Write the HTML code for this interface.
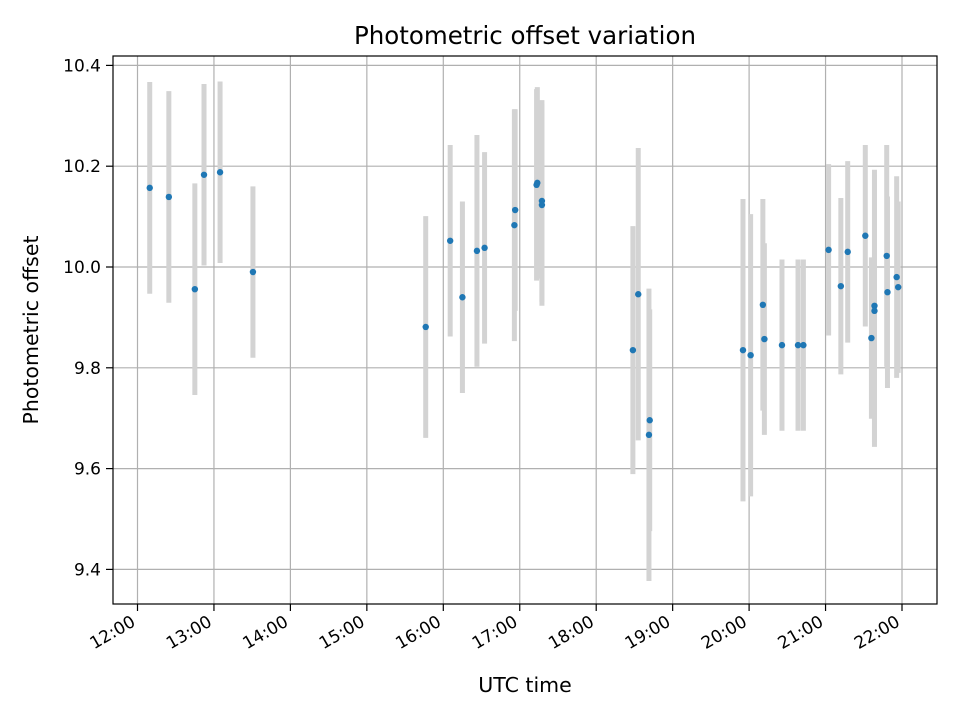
<!DOCTYPE html>
<html><head><meta charset="utf-8"><style>
html,body{margin:0;padding:0;background:#fff;}
svg text{font-family:"DejaVu Sans","Liberation Sans",sans-serif;fill:#000;}
</style></head><body>
<svg id="chart" width="960" height="720" xmlns="http://www.w3.org/2000/svg">
<rect width="960" height="720" fill="#fff"/>
<g id="grid"></g>
<g id="errs"></g>
<g id="pts"></g>
<rect x="113" y="56" width="824" height="548" fill="none" stroke="#000" stroke-width="1.2"/>
<g id="ticks"></g>
<text x="525" y="44" font-size="24.5" text-anchor="middle">Photometric offset variation</text>
<text x="525" y="692" font-size="20.5" text-anchor="middle">UTC time</text>
<text x="38" y="330" font-size="20.5" text-anchor="middle" transform="rotate(-90 38 330)">Photometric offset</text>
</svg>
<script>
const times=[12.16,12.41,12.75,12.87,13.08,13.51,15.77,16.09,16.25,16.44,16.54,16.93,16.94,17.22,17.23,17.29,17.29,18.48,18.55,18.69,18.70,19.92,20.02,20.18,20.20,20.43,20.64,20.71,21.04,21.20,21.29,21.52,21.60,21.64,21.64,21.80,21.81,21.93,21.95];
const values=[10.157,10.139,9.956,10.183,10.188,9.990,9.881,10.052,9.940,10.032,10.038,10.083,10.113,10.163,10.167,10.131,10.123,9.835,9.946,9.667,9.696,9.835,9.825,9.925,9.857,9.845,9.845,9.845,10.034,9.962,10.030,10.062,9.859,9.923,9.913,10.022,9.950,9.980,9.960];
const errors=[0.21,0.21,0.21,0.18,0.18,0.17,0.22,0.19,0.19,0.23,0.19,0.23,0.20,0.19,0.19,0.20,0.20,0.246,0.29,0.29,0.22,0.30,0.28,0.21,0.19,0.17,0.17,0.17,0.17,0.175,0.18,0.18,0.16,0.27,0.27,0.22,0.19,0.20,0.17];
const xTickHours=[12,13,14,15,16,17,18,19,20,21,22];
const xTickLabels=["12:00","13:00","14:00","15:00","16:00","17:00","18:00","19:00","20:00","21:00","22:00"];
const yTicks=[9.4,9.6,9.8,10.0,10.2,10.4];
const yTickLabels=["9.4","9.6","9.8","10.0","10.2","10.4"];
const NS="http://www.w3.org/2000/svg";
const X=h=>137.5+(h-12)*76.45;
const Y=v=>267-(v-10)*504;
function mk(tag,attrs,parent){const e=document.createElementNS(NS,tag);for(const k in attrs)e.setAttribute(k,attrs[k]);parent.appendChild(e);return e;}
const grid=document.getElementById('grid'),ticks=document.getElementById('ticks'),errs=document.getElementById('errs'),pts=document.getElementById('pts');
xTickHours.forEach((h,i)=>{
 const x=X(h);
 const g=mk('line',{x1:x,x2:x,y1:56,y2:604,stroke:'#b0b0b0','stroke-width':1.2},grid);
 
 
 const t=mk('line',{x1:x,x2:x,y1:604,y2:611,stroke:'#000','stroke-width':1.2},ticks);
 
 
 const l=mk('text',{x:x-1,y:625,'font-size':17,'text-anchor':'end',transform:`rotate(-30 ${x-1} 625)`},ticks);
 l.textContent=xTickLabels[i];
 
 
});
yTicks.forEach((v,i)=>{
 const y=Y(v);
 const g=mk('line',{x1:113,x2:937,y1:y,y2:y,stroke:'#b0b0b0','stroke-width':1.2},grid);
 
 
 const t=mk('line',{x1:106,x2:113,y1:y,y2:y,stroke:'#000','stroke-width':1.2},ticks);
 
 
 const l=mk('text',{x:101,y:y+6,'font-size':17,'text-anchor':'end'},ticks);
 l.textContent=yTickLabels[i];
 
 
});
times.forEach((h,i)=>{
 const x=X(h);
 const e=mk('line',{x1:x,x2:x,y1:Y(values[i]+errors[i]),y2:Y(values[i]-errors[i]),stroke:'#d3d3d3','stroke-width':5},errs);
 
 
 const c=mk('circle',{cx:x,cy:Y(values[i]),r:3.2,fill:'#1f77b4'},pts);
 
 
});
</script>
</body></html>
